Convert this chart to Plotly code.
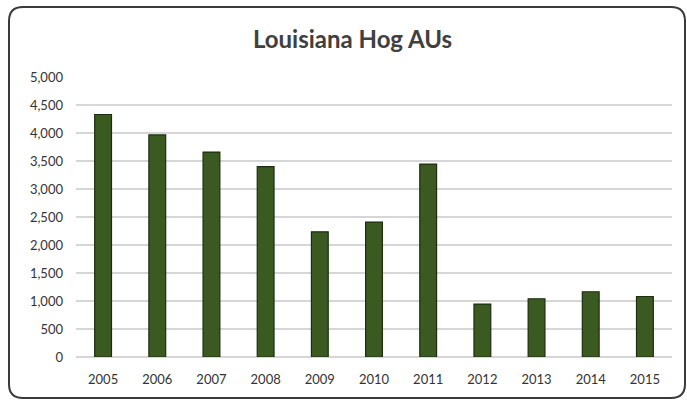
import plotly.graph_objects as go

# Louisiana hog animal units by year
years = ["2005", "2006", "2007", "2008", "2009", "2010",
         "2011", "2012", "2013", "2014", "2015"]
hog_aus = [4330, 3965, 3660, 3400, 2235, 2410, 3445, 945, 1040, 1165, 1080]

y_ticks = [0, 500, 1000, 1500, 2000, 2500, 3000, 3500, 4000, 4500, 5000]
y_tick_labels = ["0", "500", "1,000", "1,500", "2,000", "2,500",
                 "3,000", "3,500", "4,000", "4,500", "5,000"]

W, H = 687, 400
ML, MR, MT, MB = 76, 15, 77, 43
PW, PH = W - ML - MR, H - MT - MB


def px(x):
    return (x - ML) / PW


def py(y):
    return (H - MB - y) / PH


# Rounded frame around the whole chart, drawn in paper space
x0, y0, x1, y1, r = 9, 7, 685, 398, 14
frame = (
    f"M {px(x0 + r)},{py(y0)} L {px(x1 - r)},{py(y0)} "
    f"Q {px(x1)},{py(y0)} {px(x1)},{py(y0 + r)} "
    f"L {px(x1)},{py(y1 - r)} Q {px(x1)},{py(y1)} {px(x1 - r)},{py(y1)} "
    f"L {px(x0 + r)},{py(y1)} Q {px(x0)},{py(y1)} {px(x0)},{py(y1 - r)} "
    f"L {px(x0)},{py(y0 + r)} Q {px(x0)},{py(y0)} {px(x0 + r)},{py(y0)} Z"
)

fig = go.Figure(
    go.Bar(
        x=years,
        y=hog_aus,
        marker=dict(color="#3a5a22", line=dict(color="#1c2e0e", width=1.2)),
        hoverinfo="x+y",
    )
)

fig.update_layout(
    width=W,
    height=H,
    margin=dict(l=ML, r=MR, t=MT, b=MB),
    paper_bgcolor="white",
    plot_bgcolor="white",
    bargap=0.69,
    showlegend=False,
    font=dict(family="Lato, Open Sans, sans-serif", color="#404040"),
    title=dict(
        text="<b>Louisiana Hog AUs</b>",
        font=dict(size=24, color="#404040", family="Lato, sans-serif"),
        xref="container", x=352.5 / W, xanchor="center",
        yref="container", y=1 - 40 / H, yanchor="middle",
    ),
    shapes=[dict(type="path", path=frame, xref="paper", yref="paper",
                 line=dict(color="#3a3a3a", width=2), layer="above")],
)

fig.update_xaxes(
    showline=False,
    showgrid=False,
    ticks="",
    tickfont=dict(size=13, color="#333333"),
    ticklabelstandoff=13,
)

fig.update_yaxes(
    range=[0, 5000],
    tickvals=y_ticks,
    ticktext=y_tick_labels,
    showgrid=True,
    gridcolor="#d6d6d6",
    gridwidth=1.6,
    zeroline=True,
    zerolinecolor="#d6d6d6",
    zerolinewidth=1.6,
    showline=False,
    ticks="",
    tickfont=dict(size=13, color="#333333"),
    ticklabelstandoff=12,
)

fig.write_html("out.html")
